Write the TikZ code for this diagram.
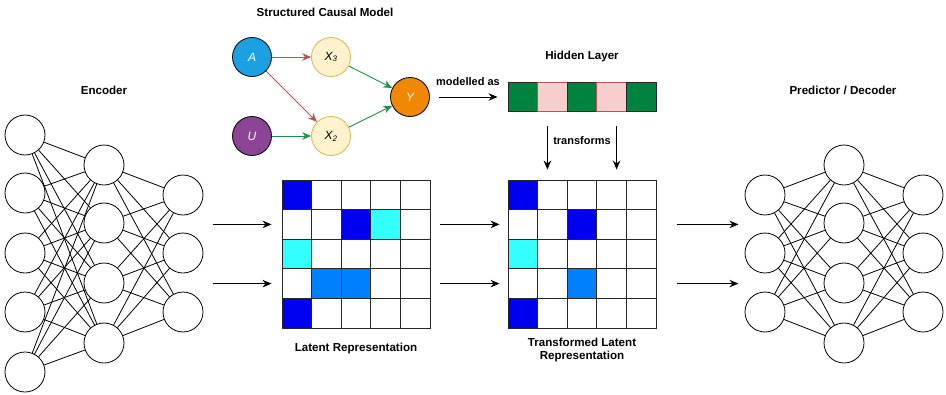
\documentclass[tikz,border=0pt]{standalone}
\usepackage{fontspec}
\setmainfont{Liberation Sans}
\usetikzlibrary{positioning,arrows.meta}

\definecolor{ablue}{HTML}{1BA1E2}
\definecolor{upurple}{HTML}{8C4494}
\definecolor{yorange}{HTML}{F08705}
\definecolor{xfill}{HTML}{FFF2CC}
\definecolor{xline}{HTML}{D6B656}
\definecolor{redline}{HTML}{B85450}
\definecolor{greenline}{HTML}{1E8F45}
\definecolor{hgreen}{HTML}{00843D}
\definecolor{hpink}{HTML}{F8CECC}
\definecolor{mb}{HTML}{0000F0}
\definecolor{mc}{HTML}{33FFFF}
\definecolor{ml}{HTML}{007FFF}
\definecolor{mw}{HTML}{FFFFFF}

\tikzset{
  neuron/.style={circle, draw, line width=0.8pt, minimum size=40pt, inner sep=0pt},
  var/.style={circle, draw, line width=0.8pt, minimum size=39pt, inner sep=0pt,
    font=\fontsize{12}{14}\selectfont\itshape},
  xnode/.style={fill=xfill, draw=xline},
  title/.style={font=\fontsize{11.6}{13.5}\selectfont\bfseries, inner sep=1pt},
  cell/.style={draw=black!85, line width=0.9pt, minimum size=29.6pt, inner sep=0pt},
  hcell/.style={line width=0.9pt, minimum width=29.6pt, minimum height=29pt, inner sep=0pt},
  hg/.style={fill=hgreen, draw=black!85},
  hp/.style={fill=hpink, draw=redline},
  arr/.style={-{Stealth[length=9pt,width=7.5pt]}, line width=0.9pt},
}

\begin{document}
\begin{tikzpicture}[x=1pt, y=-1pt]
  \useasboundingbox (0,0) rectangle (946,394);

  % Encoder
  \foreach \y [count=\i] in {135,193,253,312,372}
    \node[neuron] (e1-\i) at (25,\y) {};
  \foreach \y [count=\i] in {165,223,283,343}
    \node[neuron] (e2-\i) at (104,\y) {};
  \foreach \y [count=\i] in {195,253,312}
    \node[neuron] (e3-\i) at (183,\y) {};
  \foreach \i in {1,...,5}
    \foreach \j in {1,...,4}
      \draw[line width=0.8pt] (e1-\i) -- (e2-\j);
  \foreach \j in {1,...,4}
    \foreach \k in {1,...,3}
      \draw[line width=0.8pt] (e2-\j) -- (e3-\k);
  \node[title] (enc) at (104,90) {Encoder};

  % Predictor / Decoder
  \foreach \y [count=\i] in {195,253,312}
    \node[neuron] (d1-\i) at (765,\y) {};
  \foreach \y [count=\i] in {165,223,283,343}
    \node[neuron] (d2-\i) at (844,\y) {};
  \foreach \y [count=\i] in {195,253,312}
    \node[neuron] (d3-\i) at (923,\y) {};
  \foreach \i in {1,...,3}
    \foreach \j in {1,...,4}
      \draw[line width=0.8pt] (d1-\i) -- (d2-\j);
  \foreach \j in {1,...,4}
    \foreach \k in {1,...,3}
      \draw[line width=0.8pt] (d2-\j) -- (d3-\k);
  \node[title] (dec) at (843,90) {Predictor / Decoder};

  % Latent representation
  \foreach \row [count=\r] in {{b,w,w,w,w},{w,w,b,c,w},{c,w,w,w,w},{w,l,l,w,w},{b,w,w,w,w}}
    \foreach \v [count=\c] in \row
      \node[cell, fill=m\v] (l-\r-\c) at ({282+29.6*(\c-0.5)}, {180+29.6*(\r-0.5)}) {};
  \node[title, below=13pt of l-5-3] (lat) {Latent Representation};

  % Transformed latent representation
  \foreach \row [count=\r] in {{b,w,w,w,w},{w,w,b,w,w},{c,w,w,w,w},{w,w,l,w,w},{b,w,w,w,w}}
    \foreach \v [count=\c] in \row
      \node[cell, fill=m\v] (t-\r-\c) at ({508+29.6*(\c-0.5)}, {180+29.6*(\r-0.5)}) {};
  \node[title, align=center, below=8pt of t-5-3] (tlat) {Transformed Latent\\Representation};

  % Structured causal model
  \node[title] (scm) at (325,12) {Structured Causal Model};
  \node[var, fill=ablue, text=white] (a) at (252,57) {A};
  \node[var, fill=upurple, text=white] (u) at (252,136) {U};
  \node[var, xnode] (x3) at (331,57) {X\textsubscript{3}};
  \node[var, xnode] (x2) at (331,136) {X\textsubscript{2}};
  \node[var, fill=yorange, text=white] (y) at (410,97) {Y};
  \draw[arr, redline] (a) -- (x3);
  \draw[arr, redline] (a) -- (x2);
  \draw[arr, greenline] (u) -- (x2);
  \draw[arr, greenline] (x3) -- (y);
  \draw[arr, greenline] (x2) -- (y);

  % Hidden layer
  \node[title] (hid) at (582,56) {Hidden Layer};
  \foreach \v [count=\i] in {g,p,g,p,g}
    \node[hcell, h\v] (h\i) at ({508+29.6*(\i-0.5)}, 97) {};
  \node[title, font=\fontsize{11}{13}\selectfont\bfseries] (mod) at (468,82) {modelled as};
  \draw[arr] ([xshift=9pt]y.east) -- ([xshift=-10pt]h1.west);

  % transforms
  \node[title, font=\fontsize{11}{13}\selectfont\bfseries] (trf) at (582,141) {transforms};
  \draw[arr] ([xshift=-5pt,yshift=-14pt]h2.south) -- ([xshift=-5pt,yshift=10pt]t-1-2.north);
  \draw[arr] ([xshift=5pt,yshift=-14pt]h4.south) -- ([xshift=5pt,yshift=10pt]t-1-4.north);

  % Arrows between stages
  \foreach \r in {2,4} {
    \draw[arr] ([xshift=-69pt]l-\r-1.west) -- ([xshift=-10pt]l-\r-1.west);
    \draw[arr] ([xshift=10pt]l-\r-5.east) -- ([xshift=-8pt]t-\r-1.west);
    \draw[arr] ([xshift=21pt]t-\r-5.east) -- ([xshift=82pt]t-\r-5.east);
  }
\end{tikzpicture}
\end{document}
